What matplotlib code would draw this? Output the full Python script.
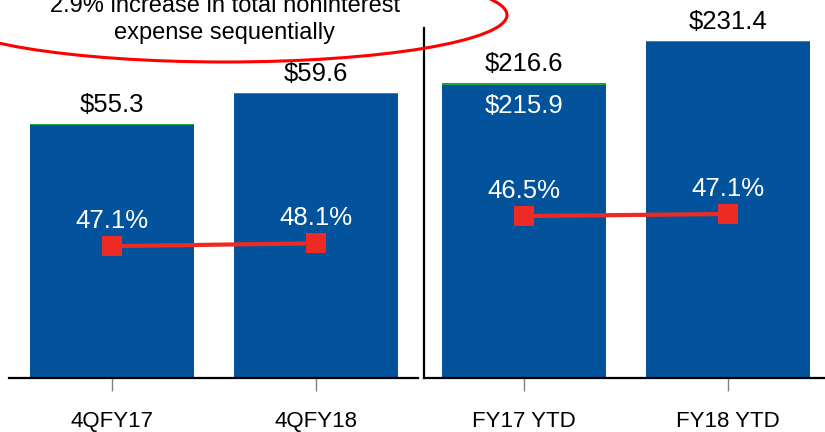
import matplotlib.pyplot as plt
from matplotlib.patches import Ellipse

# quarter panel
q_labels = ["4QFY17", "4QFY18"]
q_totals = [55.3, 59.6]
q_green = [0.15, 0.15]
q_ratio = [47.1, 48.1]

# year-to-date panel
y_labels = ["FY17 YTD", "FY18 YTD"]
y_totals = [216.6, 231.4]
y_green = [0.7, 0.35]
y_ratio = [46.5, 47.1]
y_inner = "$215.9"

note_lines = ["2.9% increase in total noninterest", "expense sequentially"]

BLUE = "#02539B"
GREEN = "#1DA34A"
RED = "#EE2A24"

plt.rcParams["font.family"] = ["Liberation Sans", "DejaVu Sans"]


def panel(fig, rect, labels, totals, greens, ratios, ylim, rlim, xlim, left_spine):
    ax = fig.add_axes(rect)
    x = list(range(len(labels)))
    blue = [t - g for t, g in zip(totals, greens)]
    ax.bar(x, blue, width=0.804, color=BLUE, zorder=2)
    ax.bar(x, greens, bottom=blue, width=0.804, color=GREEN, zorder=2)
    for xi, t in zip(x, totals):
        ax.annotate(f"${t:.1f}", (xi, t), xytext=(0, 13.5),
                    textcoords="offset points", ha="center", va="center",
                    fontsize=18.5, color="black")
    ax.set_xlim(*xlim)
    ax.set_ylim(*ylim)
    ax.set_xticks(x)
    ax.set_xticklabels(labels, fontsize=16)
    ax.tick_params(axis="x", length=9.5, width=1, color="#808080", pad=14)
    ax.set_yticks([])
    for s in ("top", "right"):
        ax.spines[s].set_visible(False)
    ax.spines["bottom"].set_linewidth(1.6)
    ax.spines["left"].set_visible(left_spine)
    ax.spines["left"].set_linewidth(1.6)

    ax2 = ax.twinx()
    ax2.set_ylim(*rlim)
    ax2.axis("off")
    ax2.plot(x, ratios, color=RED, linewidth=3, marker="s",
             markersize=14.5, markeredgewidth=0, zorder=3)
    for xi, r in zip(x, ratios):
        ax2.annotate(f"{r:.1f}%", (xi, r), xytext=(0, 18),
                     textcoords="offset points", ha="center", va="center",
                     fontsize=18.5, color="white")
    return ax


def main():
    fig = plt.figure(figsize=(8.25, 4.32), dpi=100)
    W, H = 825, 432

    panel(fig, [9 / W, 54 / H, 409 / W, 350 / H], q_labels, q_totals,
          q_green, q_ratio, (20.1, 68.6), (0, 125), (-0.505, 1.5), False)
    ax_r = panel(fig, [424 / W, 54 / H, 404 / W, 350 / H], y_labels,
                 y_totals, y_green, y_ratio, (112.7, 235.9), (0, 100.5),
                 (-0.49, 1.49), True)
    ax_r.text(0, 216.6 - 8.1, y_inner, ha="center", va="center",
              fontsize=18.5, color="white", zorder=4)

    over = fig.add_axes([0, 0, 1, 1], facecolor="none")
    over.set_xlim(0, W)
    over.set_ylim(H, 0)
    over.axis("off")
    over.add_patch(Ellipse((225, 15), 564, 94, fill=False,
                           edgecolor="#FF0000", linewidth=2.2))
    over.text(225, 12.5, note_lines[0], ha="center", va="baseline",
              fontsize=17, color="black")
    over.text(225, 39, note_lines[1], ha="center", va="baseline",
              fontsize=17, color="black")

    fig.savefig("out.png", dpi=100)


if __name__ == "__main__":
    main()
